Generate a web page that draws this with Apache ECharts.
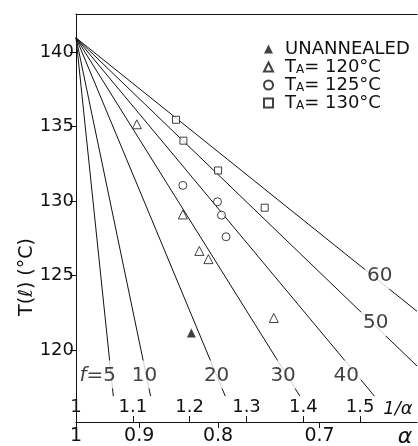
<!DOCTYPE html>
<html><head><meta charset="utf-8">
<script src="https://cdn.jsdelivr.net/npm/echarts@6/dist/echarts.min.js"></script>
<style>html,body{margin:0;padding:0;background:#fff}#c{width:418px;height:446px}</style>
</head><body><div id="c"></div>
<script>
// ---- data (x in units of 1/alpha, y = T(l) in deg C) ----
const fValues = [5, 10, 20, 30, 40, 50, 60];
const apexInvAlpha = 1.0;
const apexT = 140.95;
const lineEndInvAlpha = [1.0657, 1.1313, 1.2627, 1.394, 1.5253, 1.6, 1.6];
const lineEndT = [116.9, 116.9, 116.9, 116.9, 116.9, 118.93, 122.6];
const lineLabelInvAlpha = [1.0616, 1.1206, 1.2474, 1.3644, 1.4754, 1.5273, 1.5344];
const lineLabelT = [118.36, 118.36, 118.36, 118.36, 118.36, 121.88, 125.03];

const unannealedX = [1.203];
const unannealedT = [121.15];
const ta120X = [1.107, 1.188, 1.217, 1.233, 1.348];
const ta120T = [135.15, 129.1, 126.65, 126.1, 122.15];
const ta125X = [1.188, 1.249, 1.256, 1.264];
const ta125T = [131.05, 129.95, 129.05, 127.6];
const ta130X = [1.176, 1.189, 1.250, 1.332];
const ta130T = [135.45, 134.05, 132.05, 129.55];

const invAlphaTicks = [1, 1.1, 1.2, 1.3, 1.4, 1.5];
const alphaTicks = [1, 0.9, 0.8, 0.7];
const tTicks = [120, 125, 130, 135, 140];

const legendNames = ['UNANNEALED', 'TA120', 'TA125', 'TA130'];
const legendTexts = {
  UNANNEALED: 'UNANNEALED',
  TA120: '{m|T}{s|A}{m|= 120°C}',
  TA125: '{m|T}{s|A}{m|= 125°C}',
  TA130: '{m|T}{s|A}{m|= 130°C}'
};

// ---- chart ----
const FF = 'DejaVu Sans';
const INK = '#111';
const chart = echarts.init(document.getElementById('c'), null, {renderer: 'canvas'});
const zip = (xs, ys) => xs.map((x, i) => [x, ys[i]]);

const lineSeries = fValues.map((f, i) => ({
  type: 'line', name: 'f' + f, silent: true, symbol: 'none', z: 1,
  lineStyle: {color: INK, width: 1},
  data: [[apexInvAlpha, apexT], [lineEndInvAlpha[i], lineEndT[i]]]
}));

const labelSeries = {
  type: 'scatter', name: 'lineLabels', silent: true, symbolSize: 0, z: 3,
  data: fValues.map((f, i) => ({
    value: [lineLabelInvAlpha[i], lineLabelT[i]],
    label: f === 5 ? {align: 'right', offset: [7, 0]} : {}
  })),
  label: {
    show: true, position: 'inside', color: INK, fontFamily: FF, fontSize: 20,
    backgroundColor: '#fff', padding: [5, 2, 3, 2],
    formatter: p => fValues[p.dataIndex] === 5 ? '{i|f}=5' : String(fValues[p.dataIndex]),
    rich: {i: {fontStyle: 'italic', fontFamily: FF, fontSize: 20, color: INK}}
  }
};

const ptBase = {type: 'scatter', z: 4, silent: true};
const scatterSeries = [
  Object.assign({}, ptBase, {name: 'UNANNEALED', symbol: 'triangle', symbolSize: 9,
    itemStyle: {color: INK}, data: zip(unannealedX, unannealedT)}),
  Object.assign({}, ptBase, {name: 'TA120', symbol: 'triangle', symbolSize: 9,
    itemStyle: {color: '#fff', borderColor: INK, borderWidth: 1}, data: zip(ta120X, ta120T)}),
  Object.assign({}, ptBase, {name: 'TA125', symbol: 'circle', symbolSize: 8,
    itemStyle: {color: '#fff', borderColor: INK, borderWidth: 1}, data: zip(ta125X, ta125T)}),
  Object.assign({}, ptBase, {name: 'TA130', symbol: 'rect', symbolSize: 7,
    itemStyle: {color: '#fff', borderColor: INK, borderWidth: 1}, data: zip(ta130X, ta130T)})
];

const invFmt = v => Math.abs(v - 1) < 1e-9 ? '1' : v.toFixed(1);
const alphaFmt = v => { const a = Math.round(10 / v) / 10; return a === 1 ? '1' : a.toFixed(1); };

chart.setOption({
  animation: false,
  backgroundColor: '#fff',
  grid: {left: 76, right: 1, top: 14, bottom: 24, containLabel: false},
  xAxis: [
    { type: 'value', min: 1, max: 1.6, position: 'bottom',
      axisLine: {show: true, lineStyle: {color: INK, width: 1}},
      axisTick: {show: true, inside: true, length: 6, customValues: invAlphaTicks, lineStyle: {color: INK}},
      axisLabel: {show: true, inside: true, margin: 6, customValues: invAlphaTicks, formatter: invFmt,
        color: INK, fontFamily: FF, fontSize: 18},
      splitLine: {show: false} },
    { type: 'value', min: 1, max: 1.6, position: 'bottom',
      axisLine: {show: false},
      axisTick: {show: true, inside: false, length: 6, customValues: alphaTicks.map(a => 1 / a), lineStyle: {color: INK}},
      axisLabel: {show: true, margin: 5, customValues: alphaTicks.map(a => 1 / a), formatter: alphaFmt,
        color: INK, fontFamily: FF, fontSize: 19},
      splitLine: {show: false} },
    { type: 'value', min: 1, max: 1.6, position: 'top',
      axisLine: {show: true, lineStyle: {color: INK, width: 1}},
      axisTick: {show: false}, axisLabel: {show: false}, splitLine: {show: false} }
  ],
  yAxis: { type: 'value', min: 115.17, max: 142.55,
    axisLine: {show: true, lineStyle: {color: INK, width: 1}},
    axisTick: {show: true, length: 6, customValues: tTicks, lineStyle: {color: INK}},
    axisLabel: {show: true, margin: 2, customValues: tTicks, color: INK, fontFamily: FF, fontSize: 18},
    splitLine: {show: false} },
  legend: {
    data: legendNames, orient: 'vertical', left: 258, top: 35,
    itemWidth: 9, itemHeight: 9, itemGap: 0, selectedMode: false,
    formatter: n => legendTexts[n],
    textStyle: {color: INK, fontFamily: FF, fontSize: 18, lineHeight: 17, padding: [0, 0, 0, 7],
      rich: {
        m: {fontFamily: FF, fontSize: 18, lineHeight: 17, color: INK},
        s: {fontFamily: FF, fontSize: 12, lineHeight: 10, verticalAlign: 'bottom', color: INK}
      }}
  },
  graphic: [
    {type: 'text', x: 27, y: 277, rotation: Math.PI / 2,
      style: {text: 'T(ℓ) (°C)', font: '19px "DejaVu Sans"', fill: INK, align: 'center', verticalAlign: 'middle'}},
    {type: 'text', x: 398, y: 409,
      style: {text: '1/α', font: 'italic 18px "DejaVu Sans"', fill: INK, align: 'center', verticalAlign: 'middle'}},
    {type: 'text', x: 405, y: 437,
      style: {text: 'α', font: 'italic 22px "DejaVu Sans"', fill: INK, align: 'center', verticalAlign: 'middle'}}
  ],
  series: lineSeries.concat([labelSeries]).concat(scatterSeries)
});
</script>
</body></html>
